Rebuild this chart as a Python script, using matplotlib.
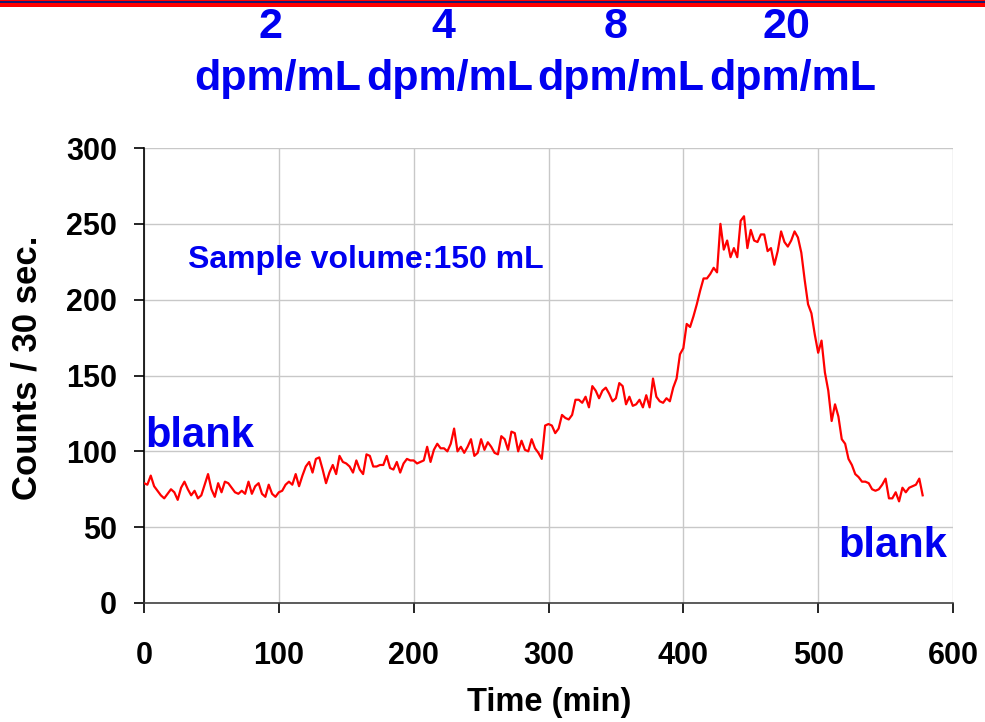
"""Counts vs time for spiked water samples (2-20 dpm/mL) between blanks."""

import matplotlib.pyplot as plt
import numpy as np
from matplotlib.patches import Rectangle

STEP_MIN = 2.5

COUNTS = [
    # blank, 0-117.5 min
    79, 78, 84, 77, 74, 71, 69, 72, 75, 73, 68, 76, 80, 75, 71, 74,
    69, 71, 78, 85, 75, 70, 79, 73, 80, 79, 76, 73, 72, 74, 72, 80,
    72, 77, 79, 72, 70, 78, 72, 70, 73, 74, 78, 80, 78, 85, 77, 84,
    # 120-235 min
    90, 93, 86, 95, 96, 88, 79, 86, 91, 85, 97, 93, 92, 90, 86, 94,
    88, 85, 98, 97, 90, 90, 91, 91, 97, 89, 88, 93, 86, 92, 95, 94,
    94, 92, 93, 94, 103, 93, 101, 105, 102, 102, 100, 105, 115, 100, 103,
    # 237.5-355 min
    99, 103, 108, 97, 99, 108, 101, 106, 103, 99, 98, 110, 108, 101, 113, 112,
    100, 107, 101, 100, 108, 102, 99, 95, 117, 118, 117, 112, 115, 124, 122, 121,
    124, 134, 134, 132, 136, 129, 143, 140, 135, 140, 142, 138, 133, 135, 145, 143,
    # 357.5-475 min
    131, 136, 130, 131, 134, 129, 137, 129, 148, 136, 133, 132, 135, 133, 142, 148,
    164, 168, 184, 182, 189, 197, 206, 214, 214, 217, 221, 218, 250, 233, 239, 228,
    234, 228, 252, 255, 234, 246, 239, 238, 243, 243, 232, 234, 223, 232, 245, 238,
    # 477.5-577.5 min
    235, 239, 245, 241, 231, 213, 197, 191, 177, 165, 173, 152, 140, 120, 131, 123,
    108, 105, 95, 91, 85, 83, 80, 80, 79, 75, 74, 75, 78, 82, 69, 69,
    73, 67, 76, 73, 76, 77, 78, 82, 71,
]
TIME_MIN = np.arange(len(COUNTS)) * STEP_MIN

CONC_VALUES = ["2", "4", "8", "20"]
CONC_UNIT = "dpm/mL"
X_TICKS = [0, 100, 200, 300, 400, 500, 600]
Y_TICKS = [0, 50, 100, 150, 200, 250, 300]

BLUE = "#0000F0"
W, H = 985, 722

plt.rcParams.update({
    "font.family": ["Liberation Sans", "DejaVu Sans"],
    "font.weight": "bold",
})

fig = plt.figure(figsize=(W / 100, H / 100), dpi=100)
ax = fig.add_axes([144 / W, 1 - 603 / H, (953 - 144) / W, (603 - 148) / H])

ax.plot(TIME_MIN, COUNTS, color="#FF0000", linewidth=1.6, zorder=3)

ax.set_xlim(0, 600)
ax.set_ylim(0, 300)
ax.set_xticks(X_TICKS)
ax.set_yticks(Y_TICKS)
ax.grid(True, color="#C8C8C8", linewidth=1.0, zorder=0)
ax.set_axisbelow(True)
for side in ("top", "right"):
    ax.spines[side].set_visible(False)
ax.spines["left"].set_color("black")
ax.spines["bottom"].set_color("#404040")
ax.spines["left"].set_linewidth(1.2)
ax.spines["bottom"].set_linewidth(1.2)
ax.tick_params(axis="both", direction="out", length=7.5, width=1.2, labelsize=22)
ax.tick_params(axis="y", pad=12)
ax.tick_params(axis="x", pad=20)

fig.text(549 / W, 1 - 703 / H, "Time (min)", ha="center", va="center", fontsize=23.5)
fig.text(27 / W, 1 - 368 / H, "Counts / 30 sec.", ha="center", va="center",
         rotation=90, fontsize=25)

ax.text(0.002, 0.343, "blank", transform=ax.transAxes, color=BLUE, fontsize=30,
        ha="left", va="baseline")
ax.text(0.993, 0.101, "blank", transform=ax.transAxes, color=BLUE, fontsize=30,
        ha="right", va="baseline")
ax.text(0.055, 0.737, "Sample volume:150 mL", transform=ax.transAxes, color=BLUE,
        fontsize=23, ha="left", va="baseline")

# concentration headers above the plot
num_x = [271, 443, 616, 786]
unit_x = [278, 450, 621, 793]
for val, nx, ux in zip(CONC_VALUES, num_x, unit_x):
    fig.text(nx / W, 1 - 38 / H, val, color=BLUE, fontsize=31, ha="center", va="baseline")
    fig.text(ux / W, 1 - 90 / H, CONC_UNIT, color=BLUE, fontsize=31, ha="center", va="baseline")

# red title bar at the top edge
fig.add_artist(Rectangle((0, 1 - 7 / H), 1, 7 / H, transform=fig.transFigure,
                         facecolor="#FF0000", edgecolor="none"))
fig.add_artist(Rectangle((0, 1 - 2.5 / H), 1, 1.2 / H, transform=fig.transFigure,
                         facecolor="#1A1A6E", edgecolor="none"))

fig.savefig("out.png", dpi=100)
